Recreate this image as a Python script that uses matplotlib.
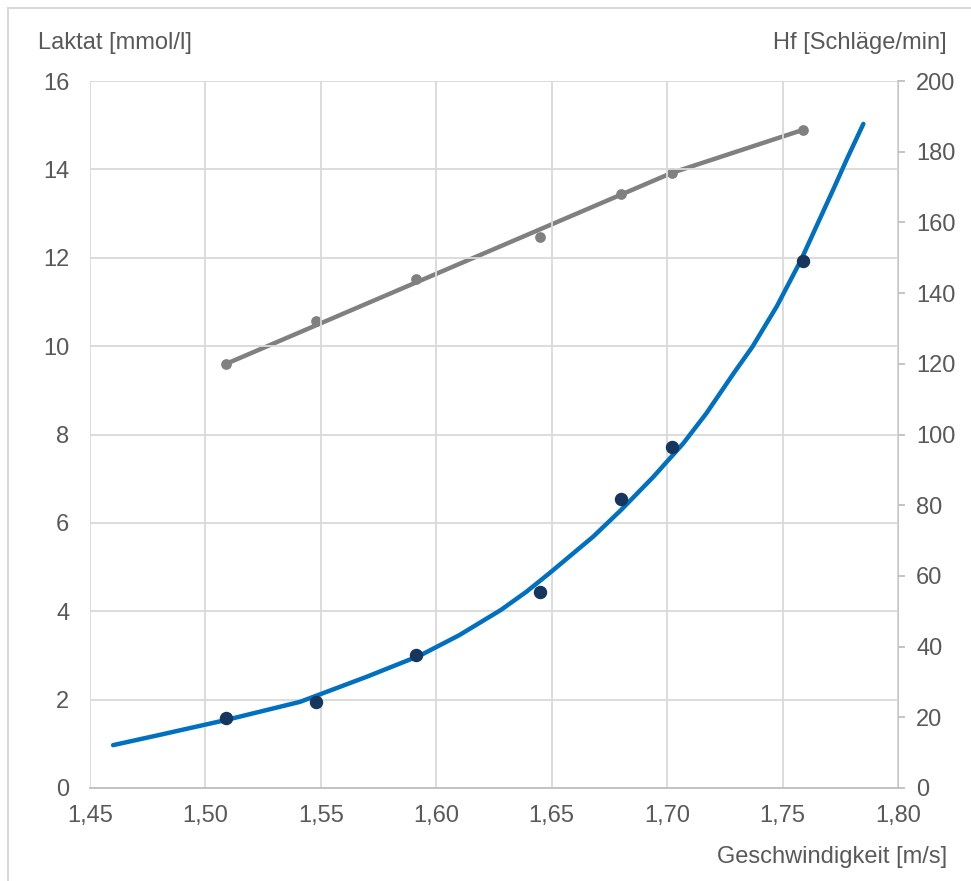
import matplotlib.pyplot as plt
from matplotlib.lines import Line2D
from matplotlib.ticker import FuncFormatter, MultipleLocator

# Lactate measurements (dots)
speed = [1.509, 1.548, 1.591, 1.645, 1.680, 1.702, 1.759]
lactate = [1.58, 1.95, 3.01, 4.44, 6.54, 7.72, 11.93]

# Lactate trend curve
curve_speed = [1.460, 1.480, 1.509, 1.541, 1.570, 1.593, 1.610, 1.628, 1.639, 1.649,
               1.668, 1.680, 1.694, 1.707, 1.717, 1.729, 1.737, 1.7475, 1.758,
               1.772, 1.778, 1.785]
curve_lactate = [0.97, 1.20, 1.54, 1.95, 2.52, 3.00, 3.46, 4.03, 4.44, 4.86,
                 5.69, 6.29, 7.04, 7.80, 8.48, 9.40, 9.99, 10.90, 11.95,
                 13.55, 14.25, 15.03]

# Heart rate measurements (dots) and trend line
hr = [120, 132, 144, 156, 168, 174, 186]
hr_line_speed = [1.509, 1.702, 1.758]
hr_line = [120, 174, 186]

text_color = "#595959"
grid_color = "#d9d9d9"
axis_color = "#bfbfbf"

plt.rcParams['font.family'] = ['Liberation Sans', 'DejaVu Sans']
plt.rcParams['font.size'] = 17

fig = plt.figure(figsize=(9.71, 8.81), dpi=100)
ax = fig.add_axes([90 / 971, 1 - 788 / 881, (898 - 90) / 971, (788 - 81) / 881])
ax2 = ax.twinx()

ax.set_xlim(1.45, 1.80)
ax.set_ylim(0, 16)
ax2.set_ylim(0, 200)
ax.xaxis.set_major_locator(MultipleLocator(0.05))
ax.yaxis.set_major_locator(MultipleLocator(2))
ax2.yaxis.set_major_locator(MultipleLocator(20))
ax.xaxis.set_major_formatter(FuncFormatter(lambda v, p: f"{v:.2f}".replace(".", ",")))

ax.grid(True, color=grid_color, linewidth=1.3)
ax.set_axisbelow(True)

ax2.plot(hr_line_speed, hr_line, color="#808080", linewidth=3.2, solid_capstyle="round", zorder=2)
ax2.scatter(speed, hr, s=45, color="#808080", zorder=3)
ax.plot(curve_speed, curve_lactate, color="#0070c0", linewidth=3.2,
        solid_capstyle="round", solid_joinstyle="round", zorder=3)
ax.scatter(speed, lactate, s=75, color="#17365d", zorder=4)
ax.set_zorder(ax2.get_zorder() + 1)
ax.patch.set_visible(False)

for a in (ax, ax2):
    for s in a.spines.values():
        s.set_visible(False)
ax2.spines['right'].set_visible(True)
ax2.spines['right'].set_color(axis_color)
ax2.spines['right'].set_linewidth(1.3)
ax.spines['bottom'].set_visible(True)
ax.spines['bottom'].set_color(axis_color)
ax.spines['bottom'].set_linewidth(1.3)

ax.tick_params(axis='x', length=0, pad=12, colors=text_color, labelsize=17)
ax.tick_params(axis='y', length=0, pad=15, colors=text_color, labelsize=17)
ax2.tick_params(axis='y', length=5, width=1.3, color=axis_color, pad=8,
                labelcolor=text_color, labelsize=17)

fig.text(38 / 971, 1 - 43 / 881, "Laktat [mmol/l]", color=text_color, fontsize=17,
         ha="left", va="center")
fig.text(947 / 971, 1 - 43 / 881, "Hf [Schläge/min]", color=text_color, fontsize=17,
         ha="right", va="center")
fig.text(947 / 971, 1 - 857 / 881, "Geschwindigkeit [m/s]", color=text_color, fontsize=17,
         ha="right", va="center")

# chart area frame (only top and left edges are visible in the crop)
fig.add_artist(Line2D([8 / 971, 1], [1 - 8 / 881, 1 - 8 / 881], color="#d9d9d9", linewidth=1.5))
fig.add_artist(Line2D([8 / 971, 8 / 971], [0, 1 - 8 / 881], color="#d9d9d9", linewidth=1.5))

fig.savefig("out.png", dpi=100)
